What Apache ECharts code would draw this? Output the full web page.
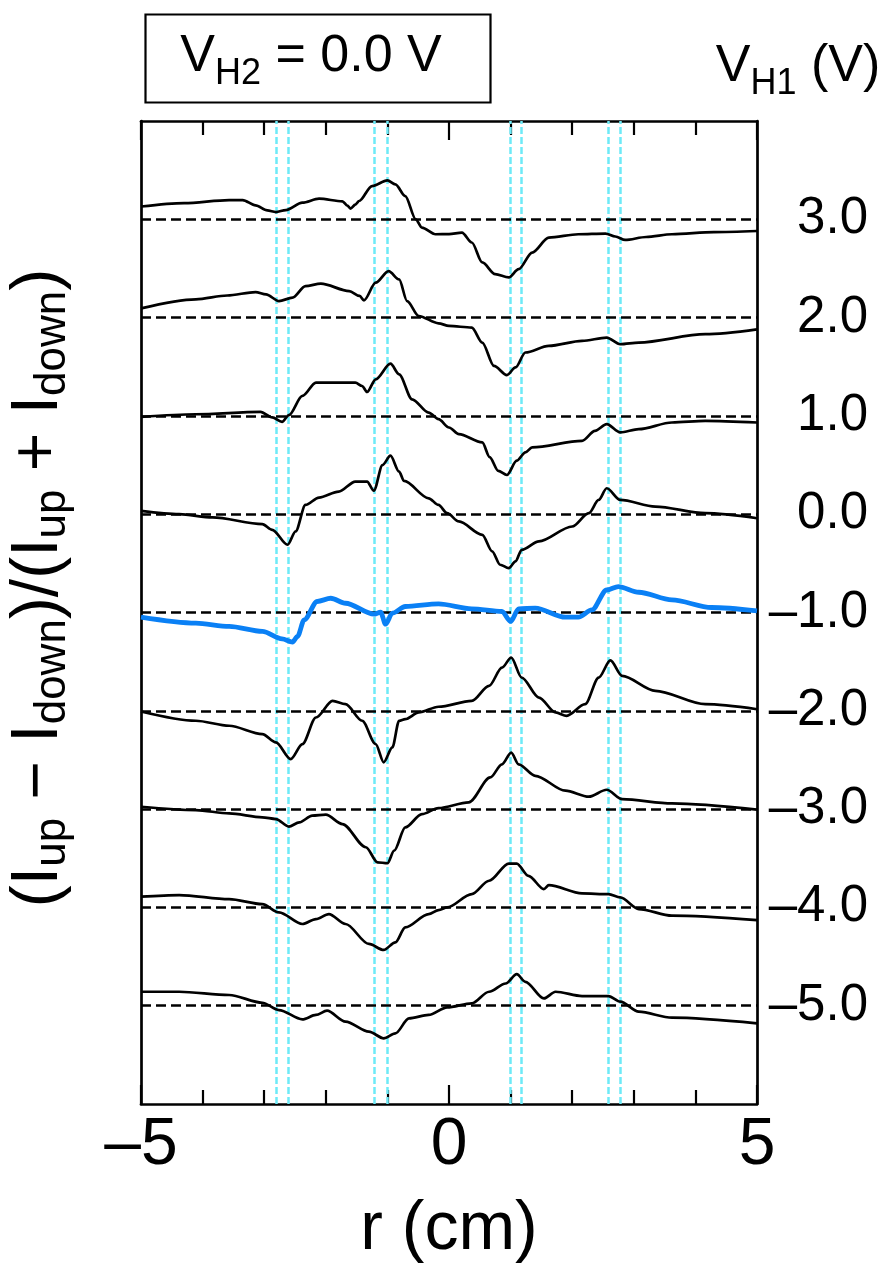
<!DOCTYPE html>
<html><head><meta charset="utf-8">
<script src="https://cdn.jsdelivr.net/npm/echarts@6/dist/echarts.min.js"></script>
<style>html,body{margin:0;padding:0;background:#fff}#c{width:894px;height:1269px}</style>
</head><body><div id="c"></div>
<script>
// V_H1 offsets of each trace (V)
const offsets = [3, 2, 1, 0, -1, -2, -3, -4, -5];
// cyan reference positions r (cm)
const cyanLines = [-2.81, -2.61, -1.21, -1.01, 0.99, 1.18, 2.59, 2.78];
const xTickLabels = {'-5': '\u20135', '0': '0', '5': '5'};
const yTickLabels = {'3': '3.0', '2': '2.0', '1': '1.0', '0': '0.0', '-1': '\u20131.0', '-2': '\u20132.0', '-3': '\u20133.0', '-4': '\u20134.0', '-5': '\u20135.0'};

// traces: [r (cm), asymmetry deviation from the trace's baseline]
const traceP3 = [[-5,0.13],[-4.3,0.165],[-3.57,0.196],[-3.35,0.196],[-3.14,0.142],[-2.95,0.09],[-2.81,0.074],[-2.65,0.094],[-2.38,0.169],[-2.11,0.21],[-1.73,0.183],[-1.65,0.14],[-1.6,0.109],[-1.52,0.15],[-1.46,0.186],[-1.25,0.338],[-1.0,0.396],[-0.87,0.355],[-0.71,0.236],[-0.54,0.0],[-0.44,-0.084],[-0.22,-0.152],[0.0,-0.15],[0.21,-0.135],[0.37,-0.236],[0.54,-0.439],[0.75,-0.558],[0.97,-0.591],[1.13,-0.507],[1.35,-0.338],[1.62,-0.186],[2.1,-0.152],[2.54,-0.145],[2.7,-0.175],[2.86,-0.21],[3.2,-0.18],[3.62,-0.152],[4.3,-0.13],[5,-0.119]];
const traceP2 = [[-5,0.094],[-4.11,0.186],[-3.6,0.225],[-3.14,0.26],[-2.97,0.236],[-2.76,0.168],[-2.54,0.203],[-2.33,0.32],[-2.08,0.345],[-1.62,0.27],[-1.45,0.22],[-1.38,0.175],[-1.19,0.355],[-0.98,0.473],[-0.81,0.388],[-0.68,0.168],[-0.49,0.016],[-0.17,-0.058],[0.0,-0.085],[0.37,-0.101],[0.54,-0.254],[0.73,-0.491],[0.94,-0.585],[1.08,-0.507],[1.24,-0.355],[1.62,-0.288],[2.16,-0.237],[2.56,-0.203],[2.78,-0.271],[3.08,-0.254],[4.16,-0.169],[5,-0.119]];
const traceP1 = [[-5,-0.01],[-4.11,0.017],[-3.06,0.041],[-2.87,-0.016],[-2.71,-0.061],[-2.6,0.007],[-2.38,0.203],[-2.16,0.339],[-1.52,0.339],[-1.41,0.304],[-1.33,0.243],[-1.19,0.372],[-0.95,0.531],[-0.81,0.423],[-0.6,0.169],[-0.33,0.034],[-0.17,-0.033],[0.0,-0.118],[0.16,-0.186],[0.54,-0.27],[0.66,-0.42],[0.8,-0.56],[0.94,-0.601],[1.1,-0.456],[1.24,-0.371],[1.35,-0.32],[2.16,-0.254],[2.37,-0.152],[2.56,-0.084],[2.78,-0.168],[3.08,-0.135],[3.62,-0.067],[4.16,-0.051],[5,-0.067]];
const traceZ0 = [[-5,0.033],[-4.38,0.0],[-3.84,-0.033],[-3.03,-0.101],[-2.87,-0.159],[-2.62,-0.311],[-2.49,-0.175],[-2.33,0.094],[-2.11,0.169],[-1.79,0.23],[-1.52,0.332],[-1.33,0.332],[-1.22,0.24],[-1.08,0.5],[-0.95,0.595],[-0.81,0.433],[-0.73,0.338],[-0.33,0.162],[-0.17,0.094],[-0.03,0.01],[0.16,-0.074],[0.54,-0.21],[0.7,-0.378],[0.83,-0.514],[0.97,-0.548],[1.08,-0.48],[1.18,-0.362],[1.46,-0.277],[2.0,-0.125],[2.27,0.01],[2.43,0.145],[2.56,0.264],[2.78,0.145],[3.35,0.078],[4.16,0.01],[5,-0.041]];
const traceM1 = [[-5,-0.048],[-4.11,-0.109],[-3.57,-0.142],[-3.03,-0.193],[-2.71,-0.268],[-2.54,-0.301],[-2.46,-0.243],[-2.35,-0.075],[-2.14,0.112],[-1.92,0.145],[-1.68,0.094],[-1.22,-0.017],[-1.11,0.003],[-1.03,-0.119],[-0.92,-0.007],[-0.71,0.061],[-0.17,0.087],[0.37,0.037],[0.86,0.01],[1.0,-0.091],[1.13,0.037],[1.4,0.044],[1.89,-0.048],[2.1,-0.048],[2.32,0.026],[2.56,0.229],[2.75,0.264],[3.08,0.206],[3.62,0.128],[4.26,0.051],[5,0.016]];
const traceM2 = [[-5,-0.007],[-4.11,-0.101],[-3.57,-0.152],[-3.03,-0.237],[-2.81,-0.321],[-2.57,-0.491],[-2.38,-0.339],[-2.16,-0.068],[-1.89,0.101],[-1.68,0.067],[-1.41,-0.101],[-1.19,-0.339],[-1.06,-0.524],[-0.92,-0.372],[-0.81,-0.101],[-0.71,-0.085],[-0.49,-0.017],[-0.17,0.041],[0.37,0.101],[0.65,0.254],[0.86,0.439],[1.01,0.541],[1.18,0.338],[1.46,0.135],[1.73,-0.017],[1.91,-0.051],[2.21,0.067],[2.43,0.338],[2.62,0.513],[2.81,0.355],[3.35,0.203],[4.16,0.067],[5,0.016]];
const traceM3 = [[-5,0.024],[-4.11,-0.01],[-3.57,-0.044],[-3.03,-0.084],[-2.81,-0.101],[-2.6,-0.178],[-2.43,-0.135],[-2.22,-0.067],[-2.0,-0.057],[-1.73,-0.152],[-1.35,-0.388],[-1.16,-0.541],[-1.0,-0.551],[-0.89,-0.422],[-0.71,-0.186],[-0.44,-0.051],[-0.17,0.01],[0.32,0.068],[0.67,0.322],[0.86,0.456],[1.01,0.575],[1.13,0.456],[1.4,0.339],[1.89,0.187],[2.27,0.126],[2.56,0.197],[2.81,0.101],[3.62,0.058],[5,-0.006]];
const traceM4 = [[-5,0.109],[-4.38,0.125],[-3.57,0.084],[-3.03,0.033],[-2.76,-0.051],[-2.38,-0.169],[-2.16,-0.119],[-1.95,-0.068],[-1.68,-0.169],[-1.3,-0.372],[-1.06,-0.433],[-0.87,-0.355],[-0.71,-0.203],[-0.33,-0.068],[-0.17,-0.027],[-0.03,0.0],[0.37,0.135],[0.65,0.271],[0.97,0.446],[1.1,0.446],[1.29,0.321],[1.54,0.186],[1.62,0.226],[2.16,0.142],[2.59,0.135],[2.78,0.101],[3.08,-0.017],[3.62,-0.084],[5,-0.129]];
const traceM5 = [[-5,0.142],[-4.38,0.142],[-3.57,0.109],[-3.03,0.03],[-2.76,-0.044],[-2.38,-0.139],[-2.16,-0.094],[-1.98,-0.051],[-1.68,-0.162],[-1.3,-0.264],[-1.06,-0.332],[-0.87,-0.281],[-0.65,-0.129],[-0.33,-0.094],[-0.03,-0.017],[0.37,0.023],[0.65,0.142],[0.92,0.226],[1.1,0.321],[1.24,0.243],[1.54,0.074],[1.73,0.142],[2.16,0.098],[2.59,0.098],[2.78,0.041],[3.08,-0.061],[3.62,-0.122],[5,-0.18]];

const traces = [traceP3, traceP2, traceP1, traceZ0, traceM1, traceM2, traceM3, traceM4, traceM5];
const highlighted = -1; // V_H1 of the highlighted (blue) trace

const FONT = '"Liberation Sans", Arial, sans-serif';
const chart = echarts.init(document.getElementById('c'), null, {renderer: 'canvas'});

const curveSeries = traces.map((tr, i) => ({
  type: 'line',
  data: tr.map(p => [p[0], offsets[i] + p[1]]),
  showSymbol: false,
  smooth: 0.3,
  smoothMonotone: 'x',
  z: 5,
  lineStyle: offsets[i] === highlighted
    ? {color: '#0a80f5', width: 4.8}
    : {color: '#000', width: 2.7},
  silent: true
}));

const xCommon = {
  type: 'value', min: -5, max: 5, interval: 5,
  axisLine: {show: true, onZero: false, lineStyle: {color: '#000', width: 2.7}},
  axisTick: {show: true, inside: true, length: 19, lineStyle: {color: '#000', width: 2.2}},
  minorTick: {show: true, splitNumber: 5, length: 14, lineStyle: {color: '#000', width: 2.2}},
  splitLine: {show: false}, minorSplitLine: {show: false}
};

const subRich = (main, sub, pad) => ({
  n: {fontSize: main, lineHeight: main, fontFamily: FONT, fill: '#000', color: '#000'},
  s: {fontSize: sub, lineHeight: 20, padding: [pad, 0, 0, 0], fontFamily: FONT, fill: '#000', color: '#000'}
});

const option = {
  animation: false,
  backgroundColor: '#fff',
  textStyle: {fontFamily: FONT},
  grid: {left: 141, right: 137, top: 121, bottom: 162, containLabel: false},
  xAxis: [
    Object.assign({}, xCommon, {
      position: 'bottom',
      axisLabel: {show: true, fontSize: 66, color: '#000', fontFamily: FONT, margin: 9,
        formatter: v => xTickLabels[String(v)] || ''},
      name: 'r (cm)', nameLocation: 'middle', nameGap: 92,
      nameTextStyle: {fontSize: 68, color: '#000', fontFamily: FONT}
    }),
    Object.assign({}, xCommon, {position: 'top', axisLabel: {show: false}})
  ],
  yAxis: [
    {
      type: 'value', min: -6, max: 4, interval: 1, position: 'left',
      axisLine: {show: true, onZero: false, lineStyle: {color: '#000', width: 2.7}},
      axisTick: {show: false}, axisLabel: {show: false}, splitLine: {show: false}
    },
    {
      type: 'value', min: -6, max: 4, interval: 1, position: 'right',
      axisLine: {show: true, onZero: false, lineStyle: {color: '#000', width: 2.7}},
      axisTick: {show: false}, splitLine: {show: false},
      axisLabel: {show: true, fontSize: 51, color: '#000', fontFamily: FONT, margin: 111, align: 'right',
        padding: [0, 0, 10, 0],
        formatter: v => yTickLabels[String(v)] || ''}
    }
  ],
  graphic: [
    {type: 'rect', left: 143, top: 12, shape: {width: 345, height: 88}, style: {fill: 'none', stroke: '#000', lineWidth: 2.2}, z: 10},
    {type: 'text', x: 311, y: 56.5, z: 10, style: {
      text: '{n|V}{s|H2}{n| = 0.0 V}', align: 'center', verticalAlign: 'middle', rich: subRich(52, 36, 35)}},
    {type: 'text', x: 798, y: 66.5, z: 10, style: {
      text: '{n|V}{s|H1}{n| (V)}', align: 'center', verticalAlign: 'middle', rich: subRich(52, 36, 35)}},
    {type: 'text', x: 39, y: 588, rotation: Math.PI / 2, z: 10, style: {
      text: '{n|(I}{s|up}{n| \u2212 I}{s|down}{n|)/(I}{s|up}{n| + I}{s|down}{n|)}',
      align: 'center', verticalAlign: 'middle', rich: subRich(66, 44, 28)}}
  ],
  series: [
    {
      type: 'line', data: [], z: 1, silent: true,
      markLine: {
        silent: true, symbol: ['none', 'none'], label: {show: false}, animation: false,
        lineStyle: {color: '#6eeaf7', width: 2.5, type: [7, 3]},
        data: cyanLines.map(v => ({xAxis: v}))
      }
    },
    {
      type: 'line', data: [], z: 2, silent: true,
      markLine: {
        silent: true, symbol: ['none', 'none'], label: {show: false}, animation: false,
        lineStyle: {color: '#000', width: 2.6, type: [10, 5]},
        data: offsets.map(v => ({yAxis: v}))
      }
    }
  ].concat(curveSeries)
};
chart.setOption(option);
</script>
</body></html>
